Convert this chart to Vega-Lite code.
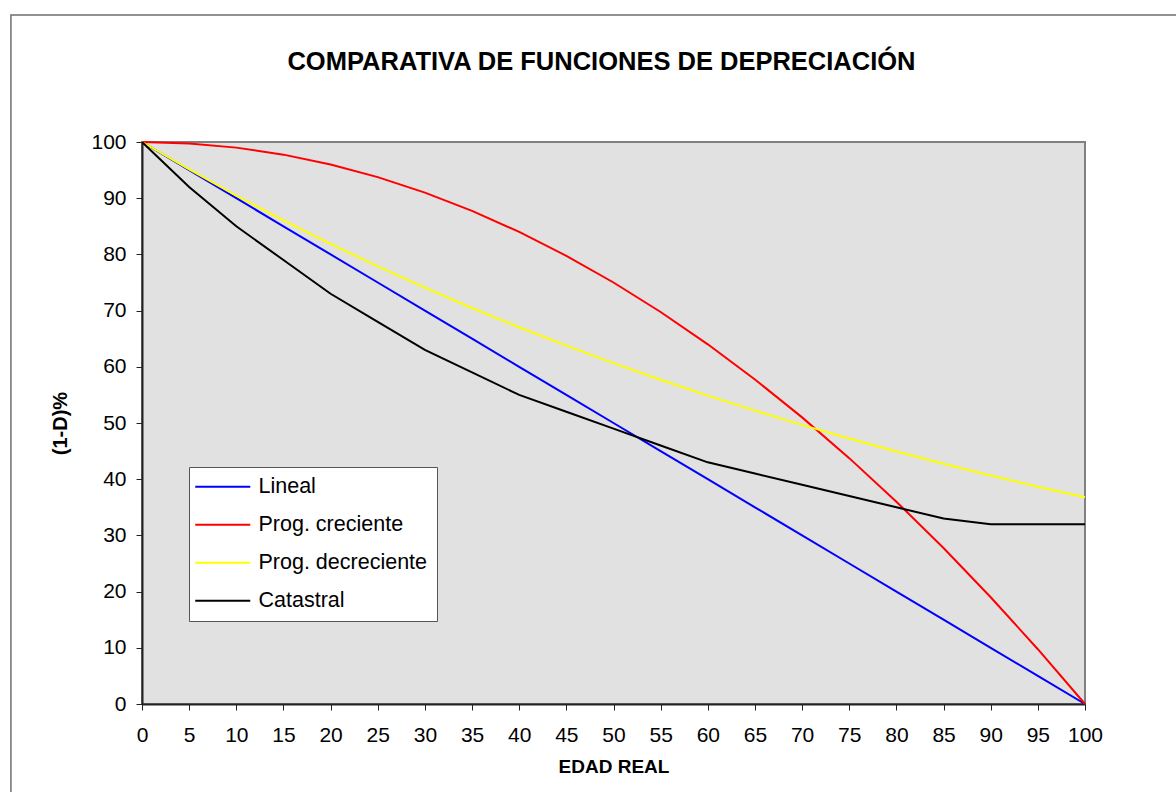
{
  "$schema": "https://vega.github.io/schema/vega-lite/v6.json",
  "autosize": {"type": "none"},
  "width": 943,
  "height": 562,
  "padding": {"left": 142, "top": 142, "right": 91, "bottom": 88},
  "background": "white",
  "title": {
    "text": "COMPARATIVA DE FUNCIONES DE DEPRECIACIÓN",
    "font": "Liberation Sans",
    "fontSize": 25.5,
    "fontWeight": "bold",
    "color": "black",
    "anchor": "middle",
    "frame": "group",
    "baseline": "alphabetic",
    "dx": -12,
    "offset": -81
  },
  "config": {
    "view": {"fill": "#e1e1e1", "stroke": "#808080", "strokeWidth": 2},
    "font": "Liberation Sans",
    "axis": {
      "grid": false,
      "domainColor": "#222222",
      "domainWidth": 2,
      "tickColor": "#222222",
      "tickWidth": 1,
      "tickSize": 6,
      "labelFont": "Liberation Sans",
      "labelFontSize": 21,
      "labelColor": "black",
      "titleFont": "Liberation Sans",
      "titleFontSize": 19,
      "titleFontWeight": "bold",
      "titleColor": "black"
    }
  },
  "datasets": {
    "marco": [{"borde": 1}],
    "curvas": [
      {"edad": 0, "valor": 100, "funcion": "Lineal"},
      {"edad": 5, "valor": 95, "funcion": "Lineal"},
      {"edad": 10, "valor": 90, "funcion": "Lineal"},
      {"edad": 15, "valor": 85, "funcion": "Lineal"},
      {"edad": 20, "valor": 80, "funcion": "Lineal"},
      {"edad": 25, "valor": 75, "funcion": "Lineal"},
      {"edad": 30, "valor": 70, "funcion": "Lineal"},
      {"edad": 35, "valor": 65, "funcion": "Lineal"},
      {"edad": 40, "valor": 60, "funcion": "Lineal"},
      {"edad": 45, "valor": 55, "funcion": "Lineal"},
      {"edad": 50, "valor": 50, "funcion": "Lineal"},
      {"edad": 55, "valor": 45, "funcion": "Lineal"},
      {"edad": 60, "valor": 40, "funcion": "Lineal"},
      {"edad": 65, "valor": 35, "funcion": "Lineal"},
      {"edad": 70, "valor": 30, "funcion": "Lineal"},
      {"edad": 75, "valor": 25, "funcion": "Lineal"},
      {"edad": 80, "valor": 20, "funcion": "Lineal"},
      {"edad": 85, "valor": 15, "funcion": "Lineal"},
      {"edad": 90, "valor": 10, "funcion": "Lineal"},
      {"edad": 95, "valor": 5, "funcion": "Lineal"},
      {"edad": 100, "valor": 0, "funcion": "Lineal"},
      {"edad": 0, "valor": 100, "funcion": "Prog. creciente"},
      {"edad": 5, "valor": 99.75, "funcion": "Prog. creciente"},
      {"edad": 10, "valor": 99, "funcion": "Prog. creciente"},
      {"edad": 15, "valor": 97.75, "funcion": "Prog. creciente"},
      {"edad": 20, "valor": 96, "funcion": "Prog. creciente"},
      {"edad": 25, "valor": 93.75, "funcion": "Prog. creciente"},
      {"edad": 30, "valor": 91, "funcion": "Prog. creciente"},
      {"edad": 35, "valor": 87.75, "funcion": "Prog. creciente"},
      {"edad": 40, "valor": 84, "funcion": "Prog. creciente"},
      {"edad": 45, "valor": 79.75, "funcion": "Prog. creciente"},
      {"edad": 50, "valor": 75, "funcion": "Prog. creciente"},
      {"edad": 55, "valor": 69.75, "funcion": "Prog. creciente"},
      {"edad": 60, "valor": 64, "funcion": "Prog. creciente"},
      {"edad": 65, "valor": 57.75, "funcion": "Prog. creciente"},
      {"edad": 70, "valor": 51, "funcion": "Prog. creciente"},
      {"edad": 75, "valor": 43.75, "funcion": "Prog. creciente"},
      {"edad": 80, "valor": 36, "funcion": "Prog. creciente"},
      {"edad": 85, "valor": 27.75, "funcion": "Prog. creciente"},
      {"edad": 90, "valor": 19, "funcion": "Prog. creciente"},
      {"edad": 95, "valor": 9.75, "funcion": "Prog. creciente"},
      {"edad": 100, "valor": 0, "funcion": "Prog. creciente"},
      {"edad": 0, "valor": 100, "funcion": "Prog. decreciente"},
      {"edad": 5, "valor": 95.12, "funcion": "Prog. decreciente"},
      {"edad": 10, "valor": 90.48, "funcion": "Prog. decreciente"},
      {"edad": 15, "valor": 86.07, "funcion": "Prog. decreciente"},
      {"edad": 20, "valor": 81.87, "funcion": "Prog. decreciente"},
      {"edad": 25, "valor": 77.88, "funcion": "Prog. decreciente"},
      {"edad": 30, "valor": 74.08, "funcion": "Prog. decreciente"},
      {"edad": 35, "valor": 70.47, "funcion": "Prog. decreciente"},
      {"edad": 40, "valor": 67.03, "funcion": "Prog. decreciente"},
      {"edad": 45, "valor": 63.76, "funcion": "Prog. decreciente"},
      {"edad": 50, "valor": 60.65, "funcion": "Prog. decreciente"},
      {"edad": 55, "valor": 57.69, "funcion": "Prog. decreciente"},
      {"edad": 60, "valor": 54.88, "funcion": "Prog. decreciente"},
      {"edad": 65, "valor": 52.2, "funcion": "Prog. decreciente"},
      {"edad": 70, "valor": 49.66, "funcion": "Prog. decreciente"},
      {"edad": 75, "valor": 47.24, "funcion": "Prog. decreciente"},
      {"edad": 80, "valor": 44.93, "funcion": "Prog. decreciente"},
      {"edad": 85, "valor": 42.74, "funcion": "Prog. decreciente"},
      {"edad": 90, "valor": 40.66, "funcion": "Prog. decreciente"},
      {"edad": 95, "valor": 38.67, "funcion": "Prog. decreciente"},
      {"edad": 100, "valor": 36.79, "funcion": "Prog. decreciente"},
      {"edad": 0, "valor": 100, "funcion": "Catastral"},
      {"edad": 5, "valor": 92, "funcion": "Catastral"},
      {"edad": 10, "valor": 85, "funcion": "Catastral"},
      {"edad": 15, "valor": 79, "funcion": "Catastral"},
      {"edad": 20, "valor": 73, "funcion": "Catastral"},
      {"edad": 25, "valor": 68, "funcion": "Catastral"},
      {"edad": 30, "valor": 63, "funcion": "Catastral"},
      {"edad": 35, "valor": 59, "funcion": "Catastral"},
      {"edad": 40, "valor": 55, "funcion": "Catastral"},
      {"edad": 45, "valor": 52, "funcion": "Catastral"},
      {"edad": 50, "valor": 49, "funcion": "Catastral"},
      {"edad": 55, "valor": 46, "funcion": "Catastral"},
      {"edad": 60, "valor": 43, "funcion": "Catastral"},
      {"edad": 65, "valor": 41, "funcion": "Catastral"},
      {"edad": 70, "valor": 39, "funcion": "Catastral"},
      {"edad": 75, "valor": 37, "funcion": "Catastral"},
      {"edad": 80, "valor": 35, "funcion": "Catastral"},
      {"edad": 85, "valor": 33, "funcion": "Catastral"},
      {"edad": 90, "valor": 32, "funcion": "Catastral"},
      {"edad": 95, "valor": 32, "funcion": "Catastral"},
      {"edad": 100, "valor": 32, "funcion": "Catastral"}
    ]
  },
  "layer": [
    {
      "data": {"name": "marco"},
      "mark": {"type": "rect", "fill": null, "fillOpacity": 0, "stroke": "#6e6e6e", "strokeWidth": 1.5, "clip": false},
      "encoding": {
        "x": {"datum": -13.9, "type": "quantitative"},
        "x2": {"datum": 130},
        "y": {"datum": 122.6, "type": "quantitative"},
        "y2": {"datum": -40}
      }
    },
    {
      "data": {"name": "curvas"},
      "mark": {"type": "line", "strokeWidth": 2, "clip": false},
      "encoding": {
        "x": {
          "field": "edad",
          "type": "quantitative",
          "scale": {"domain": [0, 100], "nice": false, "zero": false},
          "axis": {
            "title": "EDAD REAL",
            "values": [0, 5, 10, 15, 20, 25, 30, 35, 40, 45, 50, 55, 60, 65, 70, 75, 80, 85, 90, 95, 100],
            "labelPadding": 14,
            "titlePadding": 12,
            "labelFlush": false,
            "labelOverlap": false
          }
        },
        "y": {
          "field": "valor",
          "type": "quantitative",
          "scale": {"domain": [0, 100], "nice": false, "zero": false},
          "axis": {
            "title": "(1-D)%",
            "titleFontSize": 20,
            "values": [0, 10, 20, 30, 40, 50, 60, 70, 80, 90, 100],
            "labelPadding": 10,
            "titlePadding": 20
          }
        },
        "color": {
          "field": "funcion",
          "type": "nominal",
          "sort": null,
          "scale": {
            "domain": ["Lineal", "Prog. creciente", "Prog. decreciente", "Catastral"],
            "range": ["#0000ff", "#ff0000", "#ffff00", "#000000"]
          },
          "legend": {
            "title": null,
            "orient": "none",
            "legendX": 47,
            "legendY": 325,
            "fillColor": "white",
            "strokeColor": "#555555",
            "padding": 9,
            "symbolType": "M-5,0H5",
            "symbolSize": 121,
            "symbolStrokeWidth": 2,
            "symbolOffset": 14,
            "labelFont": "Liberation Sans",
            "labelFontSize": 21.5,
            "labelColor": "black",
            "labelOffset": 25,
            "labelLimit": 400,
            "rowPadding": 15
          }
        }
      }
    }
  ]
}
